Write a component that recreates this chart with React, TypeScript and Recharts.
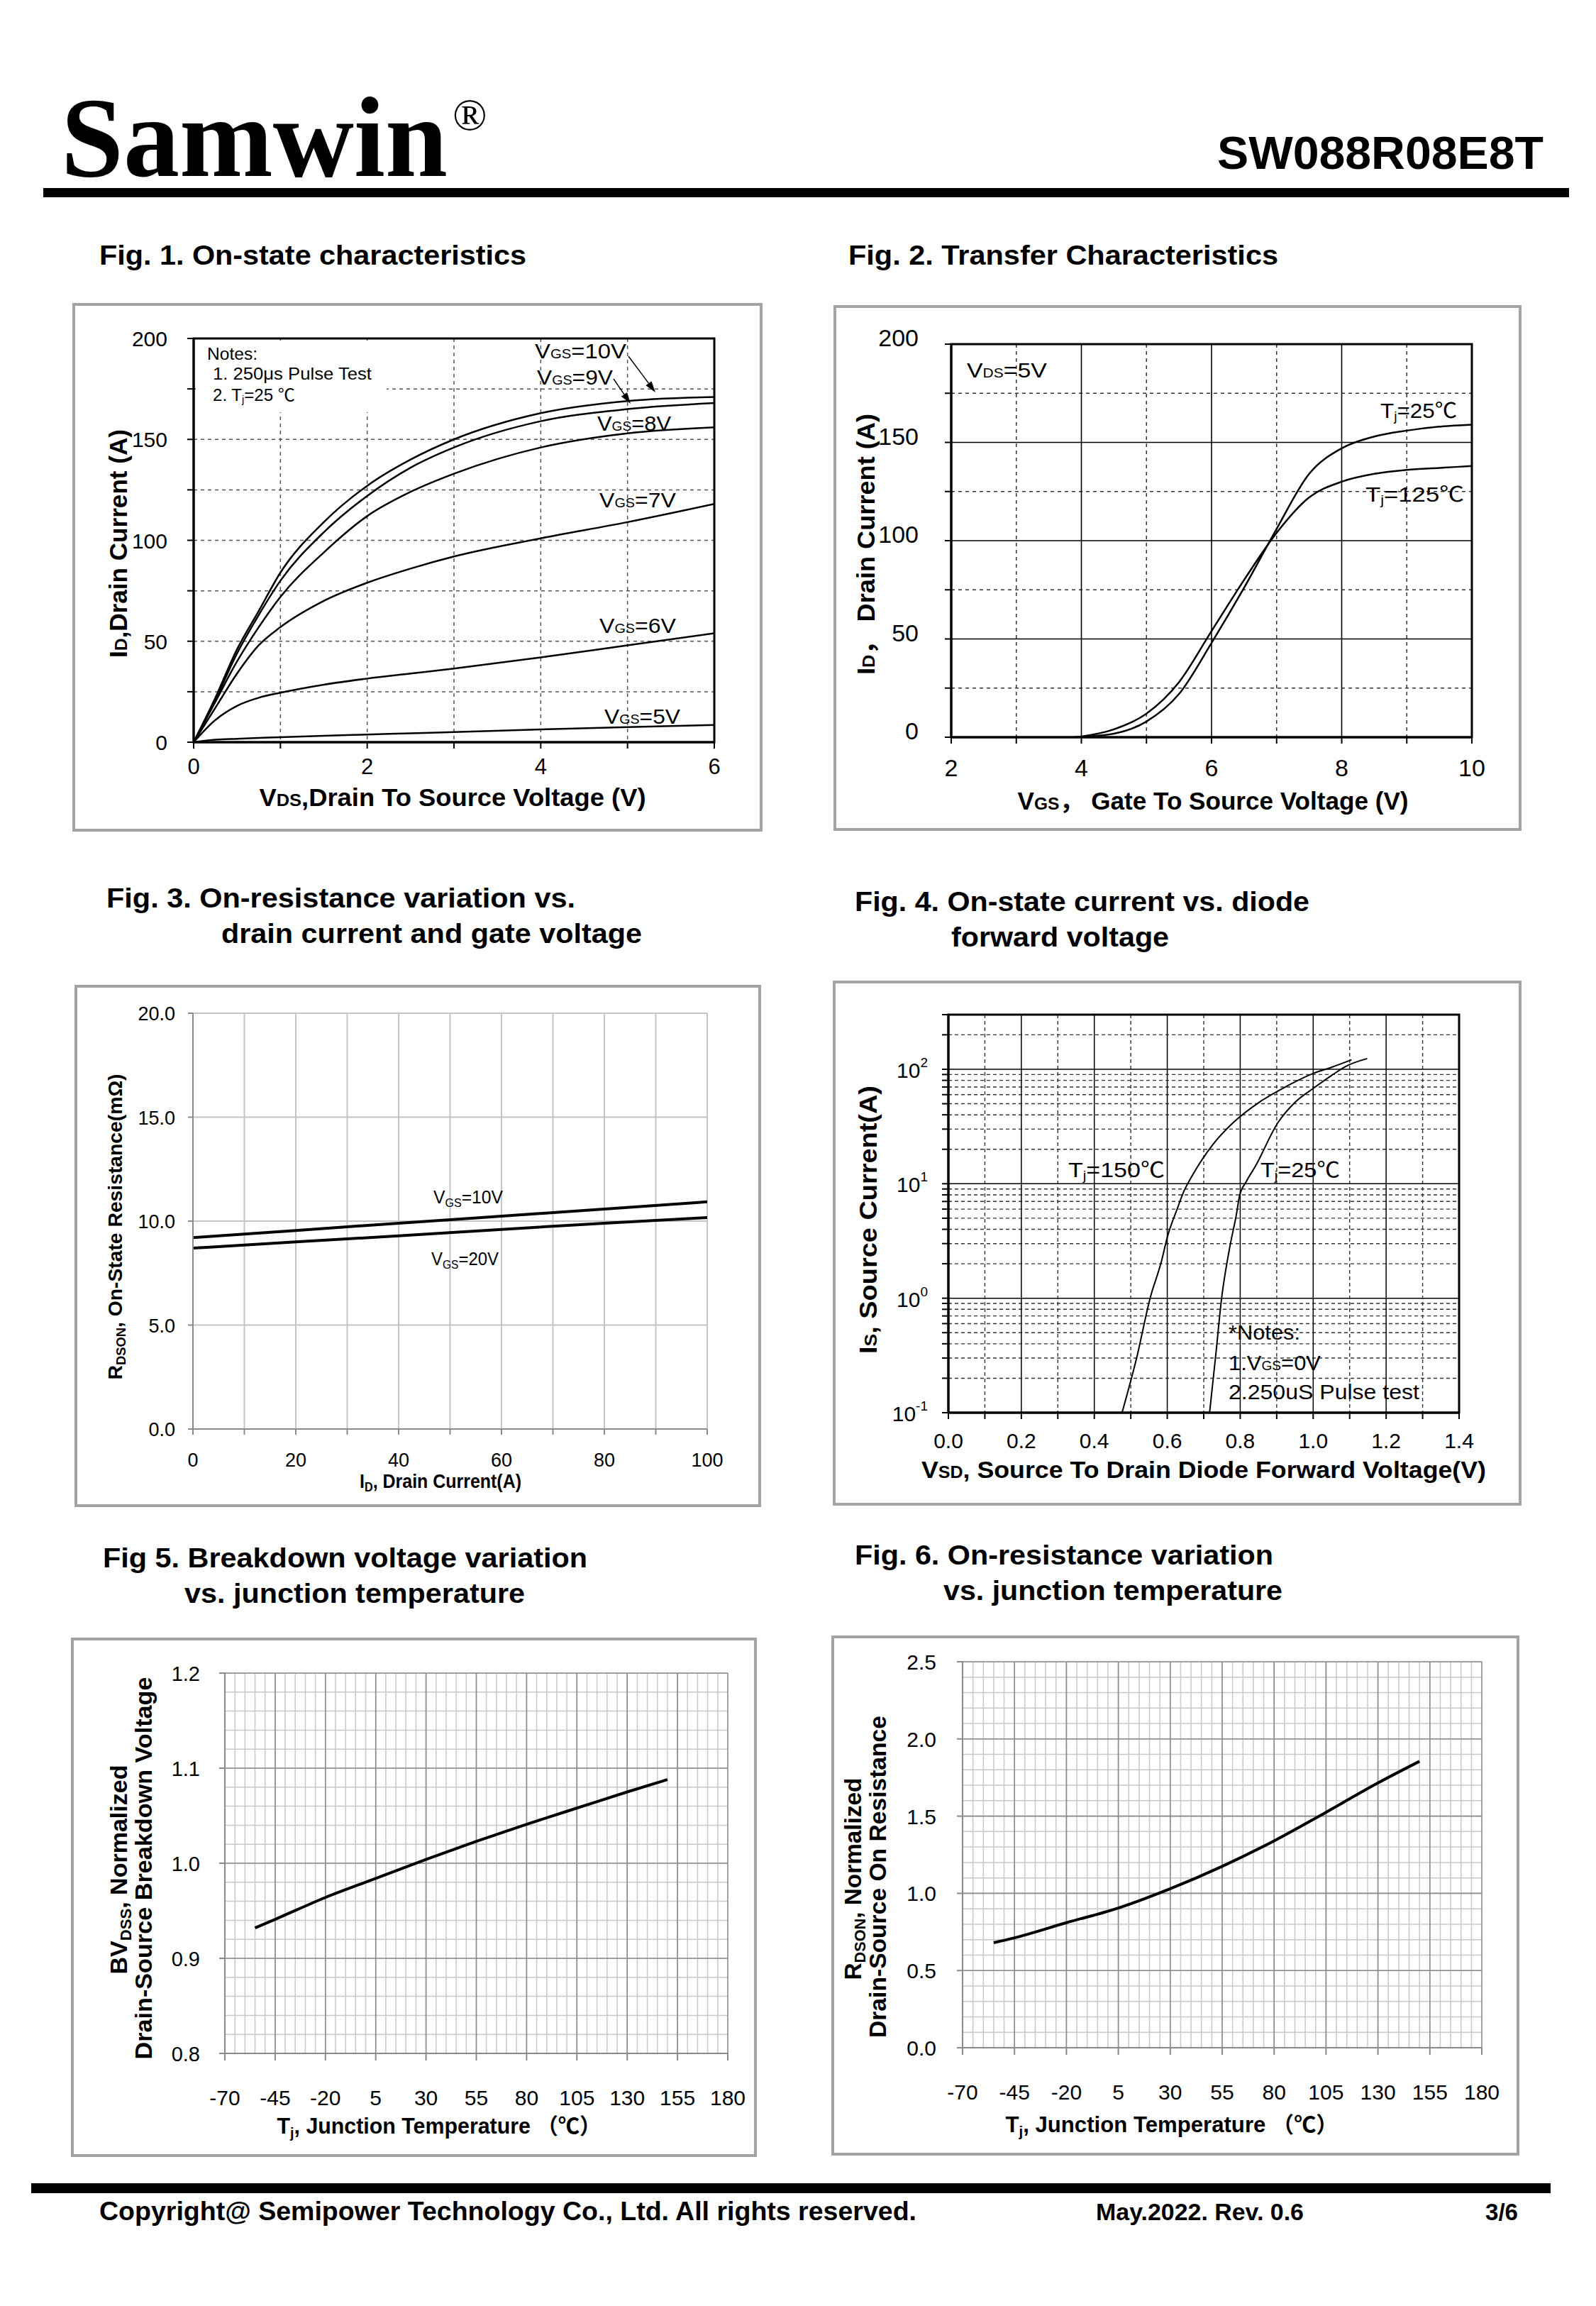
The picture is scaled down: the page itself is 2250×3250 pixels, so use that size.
import React from 'react';
import { LineChart, Line, XAxis, YAxis, CartesianGrid, ReferenceArea } from 'recharts';

const SANS = '"Liberation Sans", Arial, "Noto Sans CJK SC", sans-serif';
const SERIF = '"Liberation Serif", "Times New Roman", serif';

// Fig. 1 - on-state characteristics, ID (A) vs VDS (V)
const f1Vds = [0, 0.25, 0.5, 0.75, 1, 1.5, 2, 2.5, 3, 4, 5, 6];
const f1Id10 = [0, 22, 46, 65, 84, 109, 127, 140, 150, 163, 169, 171];
const f1Id9 = [0, 21, 44, 63, 80, 104, 122, 136, 146, 159, 165, 168];
const f1Id8 = [0, 20, 40, 57, 72, 94, 112, 124, 133, 146, 153, 156];
const f1Id7 = [0, 17, 34, 48, 57, 70, 79, 86, 92, 101, 109, 118];
const f1Id6 = [0, 11, 18, 22, 24.5, 28.5, 31.5, 34, 36.5, 42, 48, 54];
const f1Id5 = [0, 1.2, 1.7, 2.1, 2.5, 3.2, 3.8, 4.4, 5, 6.3, 7.5, 8.5];
const f1XTicks = [0, 1, 2, 3, 4, 5, 6];
const f1YTicks = [0, 25, 50, 75, 100, 125, 150, 175, 200];

// Fig. 2 - transfer characteristics, ID (A) vs VGS (V)
const f2Vgs = [3.9, 4, 4.5, 5, 5.5, 6, 6.5, 7, 7.5, 8, 8.5, 9, 9.5, 10];
const f2Id25 = [0, 0.2, 1.8, 8, 22, 48, 76, 106, 134, 147, 153, 156, 158, 159];
const f2Id125 = [0, 0.4, 4, 12, 28, 54, 80, 104, 122, 130, 134, 136, 137, 138];
const f2XTicks = [2, 3, 4, 5, 6, 7, 8, 9, 10];
const f2YTicks = [0, 25, 50, 75, 100, 125, 150, 175, 200];

// Fig. 3 - RDS(on) (mOhm) vs ID (A)
const f3Id = [0, 20, 40, 60, 80, 100];
const f3R10 = [9.21, 9.55, 9.9, 10.24, 10.58, 10.93];
const f3R20 = [8.7, 9.0, 9.29, 9.6, 9.9, 10.17];
const f3XTicks = [0, 10, 20, 30, 40, 50, 60, 70, 80, 90, 100];
const f3YTicks = [0, 5, 10, 15, 20];

// Fig. 4 - IS (A, log) vs VSD (V)
const f4Vsd150 = [0.476, 0.516, 0.553, 0.584, 0.6, 0.627, 0.645, 0.67, 0.725, 0.78, 0.854, 0.927, 1.0, 1.05, 1.105];
const f4Is150 = [0.1, 0.3, 1.0, 2.1, 3.4, 6.0, 8.5, 12, 22, 34, 52, 71, 92, 104, 121];
const f4Vsd25 = [0.716, 0.733, 0.749, 0.771, 0.79, 0.798, 0.817, 0.842, 0.903, 0.952, 1.0, 1.05, 1.087, 1.148];
const f4Is25 = [0.1, 0.32, 1.0, 2.75, 5.5, 7.8, 10.5, 14.3, 34, 52, 68, 88, 105, 124];
const f4XTicks = [0, 0.1, 0.2, 0.3, 0.4, 0.5, 0.6, 0.7, 0.8, 0.9, 1.0, 1.1, 1.2, 1.3, 1.4];
const f4YTicks = [0.1, 0.2, 0.3, 0.4, 0.5, 0.6, 0.7, 0.8, 0.9, 1, 2, 3, 4, 5, 6, 7, 8, 9, 10, 20, 30, 40, 50, 60, 70, 80, 90, 100, 200, 300];

// Fig. 5 - normalized BVDSS vs Tj
const f5Tj = [-55, -45, -20, 5, 30, 55, 80, 105, 130, 150];
const f5Bv = [0.932, 0.941, 0.964, 0.984, 1.004, 1.023, 1.041, 1.058, 1.075, 1.088];
// Fig. 6 - normalized RDS(on) vs Tj
const f6Tj = [-55, -45, -20, 5, 30, 55, 80, 105, 130, 150];
const f6R = [0.68, 0.712, 0.81, 0.905, 1.03, 1.175, 1.34, 1.525, 1.715, 1.855];
const tjTicks = [-70, -45, -20, 5, 30, 55, 80, 105, 130, 155, 180];
const f5YTicks = [0.8, 0.9, 1.0, 1.1, 1.2];
const f6YTicks = [0, 0.5, 1.0, 1.5, 2.0, 2.5];

const range = (a: number, b: number, s: number) => {
  const out: number[] = [];
  for (let v = a; v <= b + 1e-9; v += s) out.push(+v.toFixed(4));
  return out;
};

type Box = { x: number; y: number; w: number; h: number };
const P1: Box = { x: 273, y: 477, w: 734, h: 569 };
const P2: Box = { x: 1341, y: 485, w: 734, h: 554 };
const P3: Box = { x: 272, y: 1428, w: 725, h: 586 };
const P4: Box = { x: 1337, y: 1430, w: 720, h: 561 };
const P5: Box = { x: 317, y: 2358, w: 709, h: 536 };
const P6: Box = { x: 1357, y: 2342, w: 732, h: 544 };

const L = 160, T = 40, R = 40, B = 110;

const outerBoxes: Box[] = [
  { x: 104, y: 429, w: 969, h: 741 },
  { x: 1177, y: 432, w: 966, h: 737 },
  { x: 107, y: 1390, w: 964, h: 732 },
  { x: 1176, y: 1384, w: 967, h: 736 },
  { x: 102, y: 2310, w: 963, h: 728 },
  { x: 1174, y: 2307, w: 966, h: 729 },
];

function Holder({ p, children }: { p: Box; children: React.ReactNode }) {
  return (
    <div style={{ position: 'absolute', left: p.x - L, top: p.y - T, width: p.w + L + R, height: p.h + T + B, zIndex: 1 }}>
      {children}
    </div>
  );
}

const xTick = (size: number, dy: number, fmt: (v: number) => string | null) => (props: any) => {
  const s = fmt(props.payload.value);
  if (s === null) return <g />;
  return (
    <text x={props.x} y={props.y + dy} textAnchor="middle" fontSize={size} fontFamily={SANS} fill="#000">
      {s}
    </text>
  );
};

const yTick = (size: number, dx: number, dy: number, fmt: (v: number) => string | null) => (props: any) => {
  const s = fmt(props.payload.value);
  if (s === null) return <g />;
  return (
    <text x={props.x + dx} y={props.y + dy} textAnchor="end" fontSize={size} fontFamily={SANS} fill="#000">
      {s}
    </text>
  );
};

const logTick = (props: any) => {
  const v = props.payload.value;
  const lg = Math.log10(v);
  const e = Math.round(lg);
  if (Math.abs(lg - e) > 1e-6) return <g />;
  return (
    <text x={props.x - 20} y={props.y + 12} textAnchor="end" fontSize={30} fontFamily={SANS} fill="#000">
      10
      <tspan fontSize={19} dy={-15}>{e}</tspan>
    </text>
  );
};

type TP = {
  x: number; y: number; size: number; bold?: boolean; len?: number;
  anchor?: 'start' | 'middle' | 'end'; rot?: boolean; family?: string; children: React.ReactNode;
};
function Txt({ x, y, size, bold, len, anchor = 'start', rot, family = SANS, children }: TP) {
  return (
    <text
      x={x} y={y} fontSize={size} fontFamily={family} fontWeight={bold ? 700 : 400} fill="#000"
      textAnchor={anchor} textLength={len} lengthAdjust={len ? 'spacingAndGlyphs' : undefined}
      transform={rot ? `rotate(-90 ${x} ${y})` : undefined}
    >
      {children}
    </text>
  );
}

function Arrow({ x1, y1, x2, y2 }: { x1: number; y1: number; x2: number; y2: number }) {
  const dx = x2 - x1, dy = y2 - y1, l = Math.hypot(dx, dy), ux = dx / l, uy = dy / l;
  const bx = x2 - ux * 16, by = y2 - uy * 16;
  const pts = `${x2},${y2} ${bx - uy * 5},${by + ux * 5} ${bx + uy * 5},${by - ux * 5}`;
  return (
    <g>
      <line x1={x1} y1={y1} x2={bx} y2={by} stroke="#000" strokeWidth={1.5} />
      <polygon points={pts} fill="#000" />
    </g>
  );
}

const line = (key: string, w: number, data?: any[]) => (
  <Line key={key} data={data} type="monotone" dataKey={key} stroke="#000" strokeWidth={w}
    dot={false} activeDot={false} isAnimationActive={false} />
);

const chartProps = (p: Box) => ({
  width: p.w + L + R,
  height: p.h + T + B,
  margin: { top: T, right: R, left: 0, bottom: 0 },
});

export default function App() {
  const f1Data = f1Vds.map((v, i) => ({ v, i10: f1Id10[i], i9: f1Id9[i], i8: f1Id8[i], i7: f1Id7[i], i6: f1Id6[i], i5: f1Id5[i] }));
  const f2Data = f2Vgs.map((v, i) => ({ v, t25: f2Id25[i], t125: f2Id125[i] }));
  const f3Data = f3Id.map((v, i) => ({ v, r10: f3R10[i], r20: f3R20[i] }));
  const f4Data150 = f4Vsd150.map((v, i) => ({ v, i150: f4Is150[i] }));
  const f4Data25 = f4Vsd25.map((v, i) => ({ v, i25: f4Is25[i] }));
  const f5Data = f5Tj.map((v, i) => ({ v, bv: f5Bv[i] }));
  const f6Data = f6Tj.map((v, i) => ({ v, r: f6R[i] }));

  const blk = { stroke: '#000', strokeWidth: 3 };
  const blkTick = { stroke: '#000', strokeWidth: 2 };
  const gry = { stroke: '#8a8a8a', strokeWidth: 2 };

  return (
    <div style={{ position: 'absolute', left: 0, top: 0, width: 2250, height: 3250, background: '#fff', overflow: 'hidden' }}>
      <svg width={2250} height={3250} style={{ position: 'absolute', left: 0, top: 0, zIndex: 0 }}>
        {outerBoxes.map((b, i) => (
          <rect key={i} x={b.x} y={b.y} width={b.w} height={b.h} fill="none" stroke="#a3a3a3" strokeWidth={4} />
        ))}
        <rect x={61} y={265} width={2151} height={13} fill="#000" />
        <rect x={44} y={3077} width={2142} height={14} fill="#000" />
      </svg>

      {/* Fig. 1 */}
      <Holder p={P1}>
        <LineChart {...chartProps(P1)} data={f1Data}>
          <CartesianGrid verticalValues={[1, 2, 3, 4, 5]} horizontalValues={[25, 50, 75, 100, 125, 150, 175]}
            stroke="#555" strokeDasharray="5 5" strokeWidth={1.5} />
          <XAxis type="number" dataKey="v" domain={[0, 6]} ticks={f1XTicks} interval={0} allowDataOverflow height={B}
            tickSize={9} tickMargin={0} axisLine={blk} tickLine={blkTick}
            tick={xTick(31, 36, (v) => (v % 2 === 0 ? String(v) : null))} />
          <YAxis type="number" domain={[0, 200]} ticks={f1YTicks} interval={0} allowDataOverflow width={L}
            tickSize={9} tickMargin={0} axisLine={blk} tickLine={blkTick}
            tick={yTick(30, -28, 11, (v) => (v % 50 === 0 ? String(v) : null))} />
          <ReferenceArea x1={0} x2={6} y1={0} y2={200} fill="none" fillOpacity={0} stroke="#000" strokeWidth={3} />
          {['i10', 'i9', 'i8', 'i7', 'i6', 'i5'].map((k) => line(k, 2.5))}
        </LineChart>
      </Holder>

      {/* Fig. 2 */}
      <Holder p={P2}>
        <LineChart {...chartProps(P2)} data={f2Data}>
          <CartesianGrid verticalValues={[3, 5, 7, 9]} horizontalValues={[25, 75, 125, 175]}
            stroke="#333" strokeDasharray="5 5" strokeWidth={1.5} />
          <CartesianGrid verticalValues={[4, 6, 8]} horizontalValues={[50, 100, 150]} stroke="#000" strokeWidth={1.6} />
          <XAxis type="number" dataKey="v" domain={[2, 10]} ticks={f2XTicks} interval={0} allowDataOverflow height={B}
            tickSize={9} tickMargin={0} axisLine={blk} tickLine={blkTick}
            tick={xTick(34, 46, (v) => (v % 2 === 0 ? String(v) : null))} />
          <YAxis type="number" domain={[0, 200]} ticks={f2YTicks} interval={0} allowDataOverflow width={L}
            tickSize={9} tickMargin={0} axisLine={blk} tickLine={blkTick}
            tick={yTick(34, -37, 3, (v) => (v % 50 === 0 ? String(v) : null))} />
          <ReferenceArea x1={2} x2={10} y1={0} y2={200} fill="none" fillOpacity={0} stroke="#000" strokeWidth={3} />
          {line('t25', 2.5)}
          {line('t125', 2.5)}
        </LineChart>
      </Holder>

      {/* Fig. 3 */}
      <Holder p={P3}>
        <LineChart {...chartProps(P3)} data={f3Data}>
          <CartesianGrid verticalValues={[10, 20, 30, 40, 50, 60, 70, 80, 90, 100]} horizontalValues={[5, 10, 15, 20]}
            stroke="#c4c4c4" strokeWidth={2} />
          <XAxis type="number" dataKey="v" domain={[0, 100]} ticks={f3XTicks} interval={0} allowDataOverflow height={B}
            tickSize={8} tickMargin={0} axisLine={gry} tickLine={gry}
            tick={xTick(27, 45, (v) => (v % 20 === 0 ? String(v) : null))} />
          <YAxis type="number" domain={[0, 20]} ticks={f3YTicks} interval={0} allowDataOverflow width={L}
            tickSize={7} tickMargin={0} axisLine={gry} tickLine={gry}
            tick={yTick(27, -18, 10, (v) => v.toFixed(1))} />
          {line('r10', 4)}
          {line('r20', 4)}
        </LineChart>
      </Holder>

      {/* Fig. 4 */}
      <Holder p={P4}>
        <LineChart {...chartProps(P4)}>
          <CartesianGrid verticalValues={[0.1, 0.3, 0.5, 0.7, 0.9, 1.1, 1.3]}
            horizontalValues={f4YTicks.filter((v) => ![0.1, 1, 10, 100].includes(v))}
            stroke="#333" strokeDasharray="5 4" strokeWidth={1.4} />
          <CartesianGrid verticalValues={[0.2, 0.4, 0.6, 0.8, 1.0, 1.2]} horizontalValues={[1, 10, 100]}
            stroke="#000" strokeWidth={1.5} />
          <XAxis type="number" dataKey="v" domain={[0, 1.4]} ticks={f4XTicks} interval={0} allowDataOverflow height={B}
            tickSize={9} tickMargin={0} axisLine={blk} tickLine={blkTick}
            tick={xTick(30, 41, (v) => (Math.round(v * 10) % 2 === 0 ? v.toFixed(1) : null))} />
          <YAxis type="number" scale="log" domain={[0.1, 300]} ticks={f4YTicks} interval={0} allowDataOverflow width={L}
            tickSize={9} tickMargin={0} axisLine={blk} tickLine={blkTick} tick={logTick} />
          <ReferenceArea x1={0} x2={1.4} y1={0.1} y2={300} fill="none" fillOpacity={0} stroke="#000" strokeWidth={3} />
          {line('i150', 2, f4Data150)}
          {line('i25', 2, f4Data25)}
        </LineChart>
      </Holder>

      {/* Fig. 5 */}
      <Holder p={P5}>
        <LineChart {...chartProps(P5)} data={f5Data}>
          <CartesianGrid verticalValues={range(-65, 175, 5)} horizontalValues={range(0.82, 1.2, 0.02)}
            stroke="#c8c8c8" strokeWidth={1.5} />
          <CartesianGrid verticalValues={tjTicks.slice(1)} horizontalValues={[0.9, 1.0, 1.1, 1.2]}
            stroke="#8c8c8c" strokeWidth={1.6} />
          <XAxis type="number" dataKey="v" domain={[-70, 180]} ticks={tjTicks} interval={0} allowDataOverflow height={B}
            tickSize={10} tickMargin={0} axisLine={gry} tickLine={gry}
            tick={xTick(30, 63, (v) => String(v))} />
          <YAxis type="number" domain={[0.8, 1.2]} ticks={f5YTicks} interval={0} allowDataOverflow width={L}
            tickSize={8} tickMargin={0} axisLine={gry} tickLine={gry}
            tick={yTick(29, -27, 11, (v) => v.toFixed(1))} />
          {line('bv', 4)}
        </LineChart>
      </Holder>

      {/* Fig. 6 */}
      <Holder p={P6}>
        <LineChart {...chartProps(P6)} data={f6Data}>
          <CartesianGrid verticalValues={range(-65, 175, 5)} horizontalValues={range(0.1, 2.5, 0.1)}
            stroke="#c8c8c8" strokeWidth={1.5} />
          <CartesianGrid verticalValues={tjTicks.slice(1)} horizontalValues={[0.5, 1.0, 1.5, 2.0, 2.5]}
            stroke="#8c8c8c" strokeWidth={1.6} />
          <XAxis type="number" dataKey="v" domain={[-70, 180]} ticks={tjTicks} interval={0} allowDataOverflow height={B}
            tickSize={10} tickMargin={0} axisLine={gry} tickLine={gry}
            tick={xTick(30, 63, (v) => String(v))} />
          <YAxis type="number" domain={[0, 2.5]} ticks={f6YTicks} interval={0} allowDataOverflow width={L}
            tickSize={8} tickMargin={0} axisLine={gry} tickLine={gry}
            tick={yTick(30, -29, 11, (v) => v.toFixed(1))} />
          {line('r', 4)}
        </LineChart>
      </Holder>

      <svg width={2250} height={3250} style={{ position: 'absolute', left: 0, top: 0, zIndex: 2, pointerEvents: 'none' }}>
        {/* header */}
        <Txt x={86} y={248} size={160} bold len={545} family={SERIF}>Samwin</Txt>
        <Txt x={638} y={183} size={64} family={SERIF}>®</Txt>
        <Txt x={1716} y={238} size={65} bold len={460}>SW088R08E8T</Txt>

        {/* titles */}
        <Txt x={140} y={373} size={39} bold len={602}>Fig. 1. On-state characteristics</Txt>
        <Txt x={1196} y={373} size={39} bold len={606}>Fig. 2. Transfer Characteristics</Txt>
        <Txt x={150} y={1279} size={39} bold len={661}>Fig. 3. On-resistance variation vs.</Txt>
        <Txt x={312} y={1329} size={39} bold len={593}>drain current and gate voltage</Txt>
        <Txt x={1205} y={1284} size={39} bold len={641}>Fig. 4. On-state current vs. diode</Txt>
        <Txt x={1341} y={1334} size={39} bold len={307}>forward voltage</Txt>
        <Txt x={145} y={2209} size={39} bold len={683}>Fig 5. Breakdown voltage variation</Txt>
        <Txt x={260} y={2259} size={39} bold len={480}>vs. junction temperature</Txt>
        <Txt x={1205} y={2205} size={39} bold len={590}>Fig. 6. On-resistance variation</Txt>
        <Txt x={1330} y={2255} size={39} bold len={478}>vs. junction temperature</Txt>

        {/* Fig. 1 annotations */}
        <rect x={276} y={480} width={269} height={101} fill="#fff" />
        <Txt x={292} y={507} size={24} len={71}>Notes:</Txt>
        <Txt x={300} y={535} size={24} len={224}>1. 250μs  Pulse Test</Txt>
        <Txt x={300} y={565} size={24} len={116}>2. T<tspan fontSize="0.6em" dy={3}>j</tspan><tspan dy={-3}>=25 ℃</tspan></Txt>
        <Txt x={754} y={505} size={29} len={129}>V<tspan fontSize="0.62em">GS</tspan>=10V</Txt>
        <Txt x={757} y={542} size={29} len={107}>V<tspan fontSize="0.62em">GS</tspan>=9V</Txt>
        <Txt x={842} y={607} size={29} len={104}>V<tspan fontSize="0.62em">GS</tspan>=8V</Txt>
        <Txt x={845} y={715} size={29} len={108}>V<tspan fontSize="0.62em">GS</tspan>=7V</Txt>
        <Txt x={845} y={892} size={29} len={108}>V<tspan fontSize="0.62em">GS</tspan>=6V</Txt>
        <Txt x={852} y={1020} size={29} len={107}>V<tspan fontSize="0.62em">GS</tspan>=5V</Txt>
        <Arrow x1={886} y1={502} x2={924} y2={553} />
        <Arrow x1={865} y1={534} x2={889} y2={569} />
        <Txt x={179} y={766} size={35} bold len={322} anchor="middle" rot>
          I<tspan fontSize="0.7em">D</tspan>,Drain Current (A)
        </Txt>
        <Txt x={638} y={1136} size={35} bold len={545} anchor="middle">
          V<tspan fontSize="0.7em">DS</tspan>,Drain To Source Voltage (V)
        </Txt>

        {/* Fig. 2 annotations */}
        <Txt x={1363} y={532} size={29} len={113}>V<tspan fontSize="0.62em">DS</tspan>=5V</Txt>
        <Txt x={1946} y={589} size={29} len={108}>T<tspan fontSize="0.62em" dy={4}>j</tspan><tspan dy={-4}>=25℃</tspan></Txt>
        <Txt x={1925} y={707} size={29} len={139}>T<tspan fontSize="0.62em" dy={4}>j</tspan><tspan dy={-4}>=125℃</tspan></Txt>
        <Txt x={1233} y={767} size={35} bold len={368} anchor="middle" rot>
          I<tspan fontSize="0.7em">D</tspan>，  Drain Current (A)
        </Txt>
        <Txt x={1710} y={1141} size={35} bold len={551} anchor="middle">
          V<tspan fontSize="0.7em">GS</tspan>，  Gate To Source Voltage (V)
        </Txt>

        {/* Fig. 3 annotations */}
        <Txt x={611} y={1696} size={25} len={98}>V<tspan fontSize="0.65em" dy={5}>GS</tspan><tspan dy={-5}>=10V</tspan></Txt>
        <Txt x={608} y={1783} size={25} len={95}>V<tspan fontSize="0.65em" dy={5}>GS</tspan><tspan dy={-5}>=20V</tspan></Txt>
        <Txt x={172} y={1729} size={27} bold len={431} anchor="middle" rot>
          R<tspan fontSize="0.65em" dy={5}>DSON</tspan><tspan dy={-5}>, On-State Resistance(mΩ)</tspan>
        </Txt>
        <Txt x={621} y={2097} size={27} bold len={228} anchor="middle">
          I<tspan fontSize="0.65em" dy={5}>D</tspan><tspan dy={-5}>, Drain Current(A)</tspan>
        </Txt>

        {/* Fig. 4 annotations */}
        <Txt x={1506} y={1659} size={30} len={136}>T<tspan fontSize="0.6em" dy={4}>j</tspan><tspan dy={-4}>=150℃</tspan></Txt>
        <Txt x={1777} y={1659} size={30} len={112}>T<tspan fontSize="0.6em" dy={4}>j</tspan><tspan dy={-4}>=25℃</tspan></Txt>
        <Txt x={1732} y={1888} size={29} len={101}>*Notes:</Txt>
        <Txt x={1732} y={1931} size={29} len={130}>1.V<tspan fontSize="0.62em">GS</tspan>=0V</Txt>
        <Txt x={1732} y={1972} size={29} len={269}>2.250uS Pulse test</Txt>
        <Txt x={1236} y={1719} size={35} bold len={378} anchor="middle" rot>
          I<tspan fontSize="0.7em">S</tspan>, Source Current(A)
        </Txt>
        <Txt x={1697} y={2083} size={33} bold len={796} anchor="middle">
          V<tspan fontSize="0.7em">SD</tspan>, Source To Drain Diode Forward Voltage(V)
        </Txt>

        {/* Fig. 5 annotations */}
        <Txt x={179} y={2635} size={33} bold len={295} anchor="middle" rot>
          BV<tspan fontSize="0.65em" dy={6}>DSS</tspan><tspan dy={-6}>, Normalized</tspan>
        </Txt>
        <Txt x={214} y={2633} size={33} bold len={539} anchor="middle" rot>Drain-Source Breakdown Voltage</Txt>
        <Txt x={619} y={3007} size={31} bold len={457} anchor="middle">
          T<tspan fontSize="0.65em" dy={6}>j</tspan><tspan dy={-6}>, Junction Temperature （℃）</tspan>
        </Txt>

        {/* Fig. 6 annotations */}
        <Txt x={1214} y={2648} size={33} bold len={285} anchor="middle" rot>
          R<tspan fontSize="0.65em" dy={6}>DSON</tspan><tspan dy={-6}>, Normalized</tspan>
        </Txt>
        <Txt x={1249} y={2645} size={33} bold len={454} anchor="middle" rot>Drain-Source On Resistance</Txt>
        <Txt x={1652} y={3005} size={31} bold len={469} anchor="middle">
          T<tspan fontSize="0.65em" dy={6}>j</tspan><tspan dy={-6}>, Junction Temperature （℃）</tspan>
        </Txt>

        {/* footer */}
        <Txt x={140} y={3129} size={36} bold len={1152}>Copyright@ Semipower Technology Co., Ltd. All rights reserved.</Txt>
        <Txt x={1545} y={3129} size={34} bold len={293}>May.2022. Rev. 0.6</Txt>
        <Txt x={2094} y={3129} size={34} bold len={46}>3/6</Txt>
      </svg>
    </div>
  );
}
